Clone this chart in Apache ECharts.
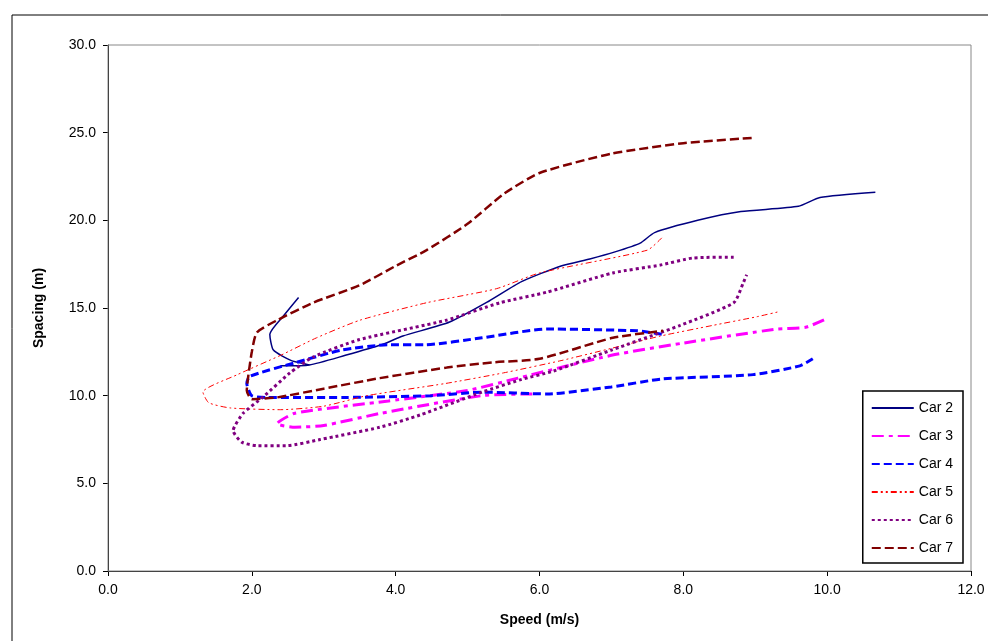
<!DOCTYPE html>
<html><head><meta charset="utf-8">
<script src="https://cdn.jsdelivr.net/npm/echarts@6/dist/echarts.min.js"></script>
<style>html,body{margin:0;padding:0;background:#fff}#c{width:988px;height:641px}</style>
</head><body><div id="c"></div>
<script>
const xTicks = [0, 2, 4, 6, 8, 10, 12];
const yTicks = [0, 5, 10, 15, 20, 25, 30];
const car2 = [[2.65,15.6],[2.45,14.6],[2.25,13.5],[2.3,12.6],[2.55,12.0],[2.8,11.75],[2.4,11.7],[2.8,11.75],[3.3,12.3],[3.8,12.9],[4.1,13.4],[4.75,14.2],[5.3,15.4],[5.75,16.5],[6.3,17.4],[6.7,17.8],[7.05,18.2],[7.4,18.7],[7.6,19.3],[8.2,20.0],[8.8,20.5],[9.6,20.8],[9.9,21.3],[10.67,21.6]];
const car3 = [[5.9,10.1],[5.2,10.0],[3.8,9.0],[3.0,8.3],[2.6,8.2],[2.35,8.4],[2.6,9.0],[3.9,9.7],[5.0,10.3],[5.7,11.0],[7.0,12.3],[8.0,13.0],[9.3,13.8],[9.7,13.9],[10.0,14.4]];
const car4 = [[7.7,13.5],[7.36,13.7],[6.1,13.8],[5.2,13.3],[4.4,12.9],[3.9,12.9],[3.25,12.6],[2.62,11.9],[1.97,11.1],[1.93,10.7],[2.0,10.0],[2.2,9.9],[3.3,9.9],[4.5,10.0],[5.2,10.2],[6.1,10.1],[7.0,10.5],[7.7,10.95],[8.97,11.2],[9.62,11.7],[9.8,12.1]];
const car5 = [[7.7,19.0],[7.5,18.3],[6.0,17.0],[5.4,16.1],[4.43,15.3],[3.5,14.3],[2.9,13.3],[2.4,12.3],[1.8,11.2],[1.32,10.2],[1.4,9.6],[1.7,9.3],[2.4,9.2],[3.0,9.4],[3.6,10.0],[4.7,10.7],[5.5,11.3],[6.3,12.0],[7.0,12.7],[7.68,13.4],[8.4,14.0],[9.02,14.5],[9.34,14.8]];
const car6 = [[8.7,17.9],[8.13,17.85],[7.68,17.45],[7.02,17.0],[6.1,15.9],[5.45,15.3],[4.7,14.3],[3.5,13.2],[2.85,12.2],[2.53,11.3],[2.15,9.9],[1.88,9.0],[1.74,8.0],[1.86,7.35],[2.07,7.15],[2.49,7.15],[2.95,7.5],[3.78,8.2],[4.34,8.9],[5.2,10.2],[5.73,10.9],[6.19,11.4],[7.0,12.6],[7.95,14.0],[8.7,15.3],[8.83,16.4],[8.88,16.9]];
const car7 = [[8.95,24.7],[8.0,24.4],[7.0,23.8],[6.0,22.7],[5.5,21.5],[5.0,19.8],[4.43,18.3],[4.0,17.4],[3.5,16.3],[2.85,15.3],[2.35,14.3],[2.07,13.6],[2.0,12.5],[1.95,11.1],[1.93,10.3],[2.0,9.8],[2.35,9.9],[3.0,10.4],[3.78,11.0],[4.71,11.6],[5.35,11.9],[6.0,12.1],[7.02,13.3],[7.72,13.7]];
const names = ['Car 2','Car 3','Car 4','Car 5','Car 6','Car 7'];
const datas = [car2,car3,car4,car5,car6,car7];
const styles = [
 {color:'#000080',width:1.5,type:'solid'},
 {color:'#FF00FF',width:3,type:[12,5,4,5]},
 {color:'#0000FF',width:3,type:[8,4]},
 {color:'#FF0000',width:1,type:[6,3,2,3,2,3]},
 {color:'#800080',width:3,type:[3,3]},
 {color:'#800000',width:2.5,type:[9,4]}
];
const chart = echarts.init(document.getElementById('c'));
chart.setOption({
 animation:false,
 textStyle:{fontFamily:'Liberation Sans, Arial, sans-serif'},
 graphic:[{type:'rect',shape:{x:12,y:15,width:980,height:640},style:{fill:'none',stroke:'#000',lineWidth:1}}],
 grid:{left:108,right:17,top:45,bottom:70},
 xAxis:{type:'value',min:0,max:12,interval:2,name:'Speed (m/s)',nameLocation:'middle',nameGap:42,
   nameTextStyle:{fontWeight:'bold',fontSize:14,color:'#000'},
   axisLine:{lineStyle:{color:'#000'}},axisTick:{show:true,length:5,lineStyle:{color:'#000'}},
   axisLabel:{formatter:v=>v.toFixed(1),fontSize:14,color:'#000',margin:12},splitLine:{show:false}},
 yAxis:{type:'value',min:0,max:30,interval:5,name:'Spacing (m)',nameLocation:'middle',nameGap:62,
   nameTextStyle:{fontWeight:'bold',fontSize:14,color:'#000'},
   axisLine:{show:true,lineStyle:{color:'#000'}},axisTick:{show:true,length:5,lineStyle:{color:'#000'}},
   axisLabel:{formatter:v=>v.toFixed(1),fontSize:14,color:'#000',margin:12},splitLine:{show:false}},
 legend:{orient:'vertical',right:25,bottom:78,itemWidth:42,itemHeight:10,itemGap:14,
   backgroundColor:'#fff',borderColor:'#000',borderWidth:1.5,padding:[10,10,8,8],
   itemStyle:{opacity:0},
   textStyle:{fontSize:14,color:'#000'},data:names},
 series: datas.map((d,i)=>({name:names[i],type:'line',data:d,symbol:'none',smooth:0.2,
   lineStyle:styles[i],itemStyle:{color:styles[i].color}})).concat([{type:'line',data:[],markArea:{silent:true,itemStyle:{color:'none',borderColor:'#888',borderWidth:1},data:[[{xAxis:0,yAxis:0},{xAxis:12,yAxis:30}]]}}])
});
</script></body></html>
